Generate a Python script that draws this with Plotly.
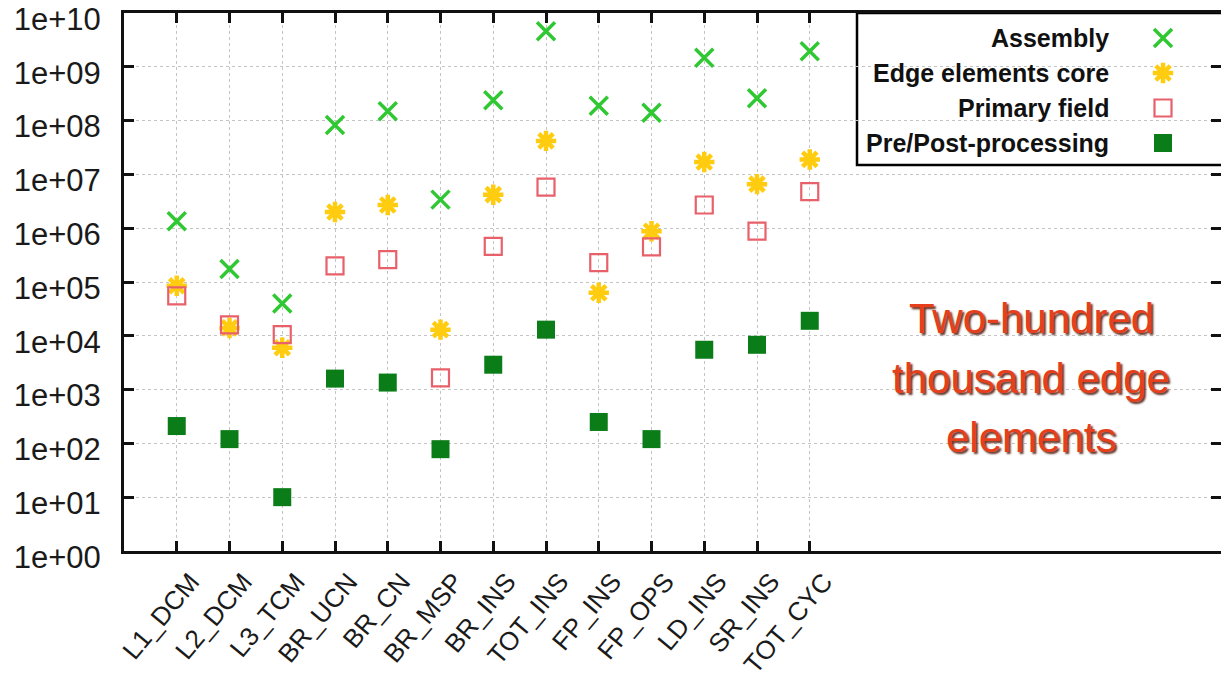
import plotly.graph_objects as go

# ---------------- data ----------------
categories = ["L1_DCM", "L2_DCM", "L3_TCM", "BR_UCN", "BR_CN", "BR_MSP", "BR_INS",
              "TOT_INS", "FP_INS", "FP_OPS", "LD_INS", "SR_INS", "TOT_CYC"]
positions = list(range(1, len(categories) + 1))

assembly = [1.35e6, 1.75e5, 4.0e4, 8.3e7, 1.5e8, 3.4e6, 2.4e8,
            4.6e9, 1.9e8, 1.4e8, 1.47e9, 2.6e8, 1.95e9]
edge_core = [8.5e4, 1.4e4, 6.0e3, 2.0e6, 2.7e6, 1.3e4, 4.2e6,
             4.2e7, 6.3e4, 8.8e5, 1.7e7, 6.6e6, 1.9e7]
primary_field = [5.5e4, 1.6e4, 1.05e4, 2.0e5, 2.6e5, 1.65e3, 4.6e5,
                 5.8e6, 2.3e5, 4.5e5, 2.7e6, 8.8e5, 4.8e6]
pre_post = [2.1e2, 1.2e2, 1.0e1, 1.6e3, 1.35e3, 7.8e1, 2.9e3,
            1.3e4, 2.5e2, 1.2e2, 5.5e3, 6.8e3, 1.9e4]

series_names = ["Assembly", "Edge elements core", "Primary field", "Pre/Post-processing"]
y_tick_vals = [10 ** k for k in range(0, 11)]
y_tick_text = ["1e+%02d" % k for k in range(0, 11)]
note_lines = ["Two-hundred", "thousand edge", "elements"]

# ---------------- styles ----------------
styles = [
    dict(symbol="x-thin-open", size=18, color="#2fc832", opacity=1, line=dict(width=3.5, color="#2fc832")),
    dict(symbol="asterisk-open", size=17, color="#ffcc10", opacity=1, line=dict(width=4.5, color="#ffcc10")),
    dict(symbol="square-open", size=17, color="#e8606a", opacity=1, line=dict(width=2.2, color="#e8606a")),
    dict(symbol="square", size=18, color="#0b7d18", opacity=1, line=dict(width=0, color="#0b7d18")),
]
series_values = [assembly, edge_core, primary_field, pre_post]

fig = go.Figure()
for name, vals, st in zip(series_names, series_values, styles):
    fig.add_trace(go.Scatter(x=positions, y=vals, mode="markers", name=name,
                             marker=st, showlegend=False, cliponaxis=False))

W, H = 1221, 684
ML, MT, MB, MR = 124, 13, 133, 0
pw, ph = W - ML - MR, H - MT - MB
def fx(px):
    return (px - ML) / pw
def fy(py):
    return 1 - (py - MT) / ph

# right-side mirror ticks without a right border line
fig.add_trace(go.Scatter(x=[None], y=[None], yaxis="y3", showlegend=False, hoverinfo="skip"))

# gnuplot-like key: text right-aligned, sample symbol to its right
key_rows = [38, 73, 108, 143]
fig.add_trace(go.Scatter(
    x=[fx(1163)] * 4, y=[fy(r) for r in key_rows], mode="markers",
    xaxis="x2", yaxis="y2", showlegend=False, hoverinfo="skip",
    marker=dict(symbol=[s["symbol"] for s in styles],
                size=[s["size"] for s in styles],
                color=[s["color"] for s in styles], opacity=1,
                line=dict(width=[s["line"]["width"] for s in styles],
                          color=[s["color"] for s in styles]))))

annotations = []
for name, r in zip(series_names, key_rows):
    annotations.append(dict(x=fx(1111), y=fy(r), xref="paper", yref="paper",
                            text="<b>%s</b>" % name, showarrow=False,
                            xanchor="right", yanchor="middle",
                            font=dict(family="Liberation Sans, Arial", size=25, color="#111")))
for line, r in zip(note_lines, [318, 378, 437]):
    annotations.append(dict(
        x=fx(1031), y=fy(r), xref="paper", yref="paper",
        text=line, showarrow=False, xanchor="center", yanchor="middle",
        font=dict(family="Liberation Sans, Arial", size=42, color="#e5401b",
                  shadow="2px 2px 2px rgba(70,15,0,0.85)")))

shapes = [dict(type="rect", xref="paper", yref="paper",
               x0=fx(857), x1=1.05, y0=fy(165), y1=1.0,
               fillcolor="white", line=dict(color="black", width=2.5),
               layer="between")]

tick_common = dict(ticks="inside", ticklen=10, tickwidth=3, tickcolor="#111")
fig.update_layout(
    width=W, height=H,
    margin=dict(l=ML, r=MR, t=MT, b=MB, pad=0, autoexpand=False),
    plot_bgcolor="white", paper_bgcolor="white",
    annotations=annotations, shapes=shapes,
    xaxis=dict(range=[0, pw / 52.75], tickmode="array", tickvals=positions,
               ticktext=categories, tickangle=-50, automargin=False,
               tickfont=dict(family="Liberation Sans, Arial", size=26, color="#1a1a1a"),
               showline=True, linewidth=3, linecolor="#111", mirror="ticks",
               showgrid=True, gridcolor="#c4c4c4", griddash="dot", gridwidth=1,
               zeroline=False, ticklabelstandoff=2, ticklabelshift=14,
               ticklabeloverflow="allow", **tick_common),
    yaxis=dict(type="log", range=[-0.001, 10.001], tickmode="array", tickvals=y_tick_vals,
               ticktext=y_tick_text, automargin=False, ticklabeloverflow="allow",
               tickfont=dict(family="Liberation Sans, Arial", size=31, color="#1a1a1a"),
               showline=True, linewidth=3, linecolor="#111", mirror=False,
               showgrid=True, gridcolor="#c4c4c4", griddash="dot", gridwidth=1,
               zeroline=False, ticklabelstandoff=14, ticklabelshift=6, **tick_common),
    yaxis3=dict(type="log", range=[-0.001, 10.001], overlaying="y", side="right", anchor="x",
                tickmode="array", tickvals=y_tick_vals, showticklabels=False, automargin=False,
                showline=False, showgrid=False, zeroline=False, fixedrange=True, **tick_common),
    xaxis2=dict(overlaying="x", range=[0, 1], visible=False, fixedrange=True),
    yaxis2=dict(overlaying="y", range=[0, 1], visible=False, fixedrange=True),
)

fig.write_html("out.html")
